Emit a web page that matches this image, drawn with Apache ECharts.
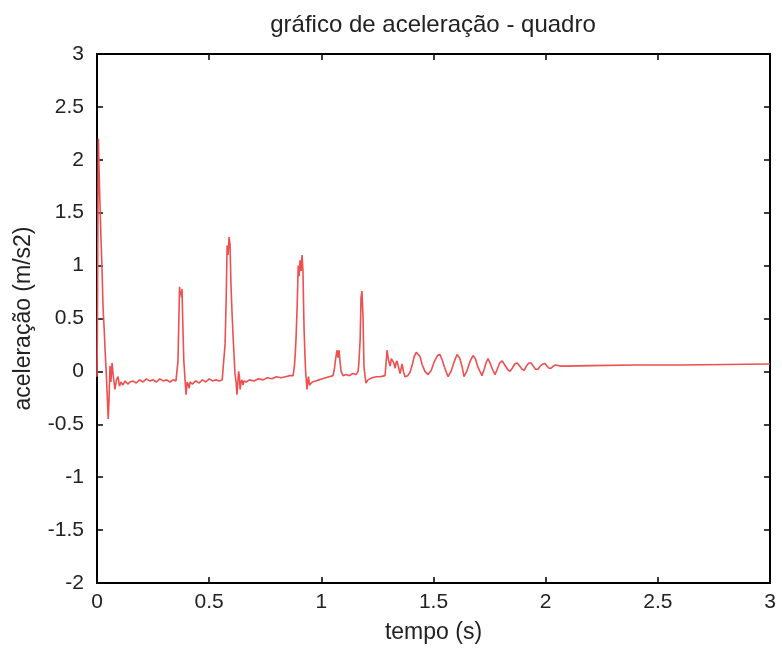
<!DOCTYPE html>
<html lang="pt">
<head>
    <meta charset="UTF-8">
    <title>gráfico de aceleração - quadro</title>
    <script src="https://cdn.jsdelivr.net/npm/echarts@6/dist/echarts.min.js"></script>
    <style>
        html, body { margin: 0; padding: 0; background: #fff; }
        #chart { width: 782px; height: 649px; }
    </style>
</head>
<body>
    <div id="chart"></div>
    <script>
        // valores
        var tempo = [
            0.000, 0.002, 0.004, 0.006, 0.009, 0.013, 0.018, 0.022, 0.027, 0.032, 0.036, 0.041, 0.045, 0.050, 0.053,
            0.058, 0.062, 0.067, 0.073, 0.080, 0.087, 0.094, 0.100, 0.107, 0.115, 0.125, 0.137, 0.147, 0.160, 0.175,
            0.190, 0.205, 0.220, 0.235, 0.250, 0.265, 0.280, 0.295, 0.310, 0.325, 0.340, 0.352, 0.357,
            0.361, 0.365, 0.368, 0.371, 0.374, 0.377, 0.379, 0.383, 0.387, 0.390, 0.397, 0.402, 0.406, 0.411, 0.415,
            0.425, 0.440, 0.455, 0.470, 0.485, 0.500, 0.515, 0.530, 0.545, 0.558, 0.566,
            0.571, 0.576, 0.580, 0.584, 0.589, 0.593, 0.597, 0.602, 0.606, 0.611, 0.615, 0.620, 0.624, 0.628, 0.631,
            0.635, 0.638, 0.642, 0.646, 0.651, 0.655, 0.665, 0.680, 0.700, 0.720, 0.740, 0.760, 0.780, 0.800, 0.820,
            0.840, 0.860, 0.874, 0.880, 0.883, 0.887, 0.892, 0.897, 0.901, 0.905, 0.910, 0.914, 0.918, 0.923, 0.927,
            0.930, 0.936, 0.940, 0.943, 0.947, 0.950, 0.960, 0.975, 0.990, 1.005, 1.020, 1.035, 1.052, 1.058,
            1.064, 1.070, 1.074, 1.079, 1.084, 1.088, 1.097, 1.110, 1.125, 1.140, 1.155, 1.164,
            1.168, 1.173, 1.177, 1.181, 1.186, 1.190, 1.195, 1.199, 1.208, 1.226, 1.245, 1.262, 1.284,
            1.293, 1.300, 1.307, 1.312, 1.317, 1.323, 1.329, 1.333, 1.337, 1.344, 1.351, 1.356, 1.360, 1.366, 1.373,
            1.385, 1.395, 1.405, 1.414, 1.423, 1.431, 1.440, 1.450, 1.462, 1.476, 1.490, 1.505, 1.518, 1.529, 1.540,
            1.552, 1.565, 1.578, 1.592, 1.605, 1.616, 1.627, 1.636, 1.648, 1.662, 1.676, 1.687, 1.698, 1.716,
            1.726, 1.736, 1.743, 1.752, 1.763, 1.774, 1.784, 1.795, 1.806, 1.818, 1.830, 1.841, 1.851, 1.862, 1.873,
            1.884, 1.895, 1.904, 1.914, 1.925, 1.935, 1.945, 1.955, 1.966, 1.976, 1.987, 1.997, 2.006, 2.015, 2.024,
            2.034, 2.043, 2.051, 2.070, 2.087, 2.200, 2.400, 2.600, 2.800, 3.000
        ];
        var aceleracao = [
            -0.05, 0.45, 1.40, 2.20, 1.92, 1.60, 1.24, 1.00, 0.60, 0.40, 0.20, 0.00, -0.20, -0.45, -0.30,
            0.05, -0.10, 0.08, -0.05, -0.17, -0.08, -0.05, -0.14, -0.10, -0.13, -0.09, -0.12, -0.10, -0.09, -0.11,
            -0.08, -0.10, -0.07, -0.09, -0.08, -0.10, -0.07, -0.09, -0.08, -0.10, -0.08, -0.09, -0.08,
            0.10, 0.50, 0.80, 0.72, 0.76, 0.70, 0.78, 0.40, 0.10, 0.00, -0.22, -0.10, -0.12, -0.16, -0.10,
            -0.12, -0.09, -0.11, -0.08, -0.10, -0.07, -0.09, -0.08, -0.09, -0.08, -0.08,
            0.26, 0.70, 1.19, 1.10, 1.27, 1.20, 0.83, 0.55, 0.36, 0.15, -0.02, -0.10, -0.22, -0.10, 0.00,
            -0.05, -0.17, -0.10, -0.08, -0.13, -0.09, -0.10, -0.08, -0.09, -0.07, -0.08, -0.06, -0.07, -0.05, -0.06,
            -0.05, -0.04, -0.04, 0.05, 0.14, 0.30, 0.60, 1.00, 0.90, 1.05, 0.95, 1.10, 0.95, 0.40, 0.15,
            0.00, -0.17, -0.08, -0.05, -0.13, -0.12, -0.10, -0.09, -0.08, -0.07, -0.06, -0.05, -0.04, 0.02,
            0.12, 0.20, 0.13, 0.20, 0.08, 0.00, -0.04, -0.03, -0.04, -0.02, -0.03, 0.00,
            0.10, 0.30, 0.70, 0.76, 0.50, 0.05, -0.05, -0.11, -0.08, -0.06, -0.05, -0.05, -0.04,
            0.20, 0.10, 0.05, 0.12, 0.13, 0.08, 0.03, 0.08, 0.10, 0.04, -0.02, 0.03, 0.07, 0.00, -0.05,
            -0.04, -0.01, 0.06, 0.14, 0.18, 0.19, 0.14, 0.06, 0.00, -0.03, 0.01, 0.10, 0.15, 0.16, 0.10,
            0.02, -0.05, 0.00, 0.09, 0.16, 0.13, 0.05, -0.05, 0.00, 0.09, 0.15, 0.12, 0.04, -0.04,
            0.02, 0.09, 0.12, 0.08, 0.02, -0.03, 0.02, 0.08, 0.10, 0.06, 0.02, 0.00, 0.03, 0.07, 0.08,
            0.05, 0.02, 0.01, 0.05, 0.08, 0.08, 0.05, 0.02, 0.02, 0.05, 0.07, 0.075, 0.05, 0.03, 0.03,
            0.05, 0.06, 0.06, 0.05, 0.05, 0.055, 0.06, 0.06, 0.065, 0.07
        ];
        var xTicks = [0, 0.5, 1, 1.5, 2, 2.5, 3];
        var yTicks = [-2, -1.5, -1, -0.5, 0, 0.5, 1, 1.5, 2, 2.5, 3];

        var pontos = tempo.map(function (t, i) { return [t, aceleracao[i]]; });

        var fonte = '"Liberation Sans", Arial, sans-serif';
        var chart = echarts.init(document.getElementById('chart'));

        // eixo secundário (caixa estilo matlab, só com marcas)
        function eixoCaixa(pos, ticks) {
            return {
                type: 'value',
                position: pos,
                min: ticks[0],
                max: ticks[ticks.length - 1],
                interval: 0.5,
                axisLine: { show: true, onZero: false, lineStyle: { color: '#000', width: 2 } },
                axisTick: { show: true, inside: true, length: 6, lineStyle: { color: '#000', width: 1.5 } },
                axisLabel: { show: false },
                splitLine: { show: false }
            };
        }

        var option = {
            animation: false,
            backgroundColor: '#fff',
            title: {
                text: 'gráfico de aceleração - quadro',
                left: 428,
                textAlign: 'center',
                top: 8,
                textStyle: { fontFamily: fonte, fontSize: 24, fontWeight: 'normal', color: '#222' }
            },
            grid: { left: 97, top: 54, right: 12, bottom: 62, show: true, borderColor: '#000', borderWidth: 2, backgroundColor: 'transparent' },
            xAxis: [{
                type: 'value',
                min: xTicks[0],
                max: xTicks[xTicks.length - 1],
                interval: 0.5,
                name: 'tempo (s)',
                nameLocation: 'middle',
                nameGap: 38,
                nameTextStyle: { fontFamily: fonte, fontSize: 23, color: '#222' },
                axisLine: { show: true, onZero: false, lineStyle: { color: '#000', width: 2 } },
                axisTick: { show: true, inside: true, length: 6, lineStyle: { color: '#000', width: 1.5 } },
                axisLabel: { fontFamily: fonte, fontSize: 21, color: '#222', margin: 9 },
                splitLine: { show: false }
            }, eixoCaixa('top', xTicks)],
            yAxis: [{
                type: 'value',
                min: yTicks[0],
                max: yTicks[yTicks.length - 1],
                interval: 0.5,
                name: 'aceleração (m/s2)',
                nameLocation: 'middle',
                nameGap: 62,
                nameTextStyle: { fontFamily: fonte, fontSize: 23, color: '#222' },
                axisLine: { show: true, onZero: false, lineStyle: { color: '#000', width: 2 } },
                axisTick: { show: true, inside: true, length: 6, lineStyle: { color: '#000', width: 1.5 } },
                axisLabel: { fontFamily: fonte, fontSize: 21, color: '#222', margin: 13 },
                splitLine: { show: false }
            }, eixoCaixa('right', yTicks)],
            series: [{
                type: 'line',
                data: pontos,
                xAxisIndex: 0,
                yAxisIndex: 0,
                showSymbol: false,
                lineStyle: { color: '#ef4f4f', width: 1.6 }
            }]
        };
        chart.setOption(option);
    </script>
</body>
</html>
